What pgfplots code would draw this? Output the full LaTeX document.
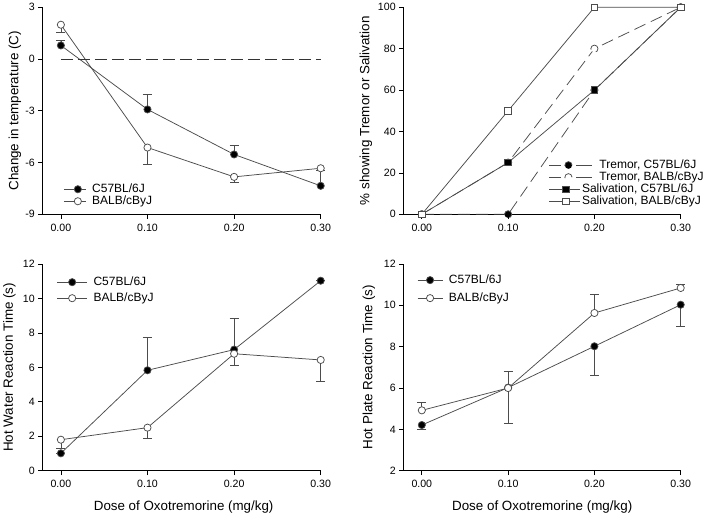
\documentclass[border=0pt]{standalone}
\usepackage{fontspec}
\setmainfont{Liberation Sans}
\usepackage{pgfplots}
\pgfplotsset{compat=1.18}
\definecolor{ln}{gray}{0.3}
\tikzset{lfont/.style={font=\fontsize{13.4bp}{15bp}\selectfont}}

\pgfplotsset{
  base/.style={
    scale only axis,
    width=278bp, height=207bp,
    axis x line*=bottom, axis y line*=left,
    axis line style={-, line width=0.7bp, black},
    tick align=outside, major tick length=4.5bp,
    tick style={black, line width=0.7bp},
    xmin=-0.021, xmax=0.3,
    xtick={0,0.1,0.2,0.3},
    xticklabels={0.00,0.10,0.20,0.30},
    ticklabel style={font=\fontsize{10.6bp}{12bp}\selectfont},
    xticklabel style={yshift=-1.5bp},
    /pgf/number format/assume math mode=true,
    legend style={draw=none, fill=none, inner sep=0pt, font=\fontsize{12bp}{12bp}\selectfont,
      nodes={inner sep=0pt, text height=9bp, text depth=3bp}, row sep=0pt, column sep=6bp},
    legend cell align=left,
    legend image code/.code={
      \draw[mark repeat=2,mark phase=2] plot coordinates {(0bp,0bp) (14bp,0bp) (22bp,0bp)};},
    clip=false,
  },
  ser/.style={color=ln, line width=0.75bp, mark size=3.6bp,
     mark options={draw=black, solid, line width=0.75bp},
     error bars/error bar style={line width=0.75bp, color=ln, solid},
     error bars/error mark options={line width=0.75bp, color=ln, mark size=4.5bp, rotate=90}},
  filled/.style={ser, mark=*, mark options={fill=black}},
  open/.style={ser, mark=*, mark options={fill=white}},
  fsq/.style={ser, mark=square*, mark size=3.3bp, mark options={fill=black}},
  osq/.style={ser, mark=square*, mark size=3.3bp, mark options={fill=white}},
  trem/.style={legend image code/.code={
    \path[draw=none, fill=none] (0bp,-3bp) rectangle (31bp,3bp);
    \draw[overlay, dash pattern=on 12bp off 15bp on 16bp off 50bp, mark repeat=2, mark phase=2]
       plot coordinates {(0bp,0bp) (19.4bp,0bp) (43bp,0bp)};}},
}

\begin{document}
\begin{tikzpicture}
\path[use as bounding box] (0bp,0bp) rectangle (704bp,-518bp);

% Panel 1
\begin{axis}[base, at={(42.7bp,-214.3bp)}, anchor=south west,
  ymin=-9, ymax=3, ytick={-9,-6,-3,0,3}, yticklabels={-9,-6,-3,0,3},
  ylabel={Change in temperature (C)},
  ylabel style={lfont, at={(axis description cs:-0.0996,0.5)}, anchor=center},
  legend style={at={(axis description cs:0.074,0.151)}, anchor=north west}]
\addplot[filled, error bars/.cd, y dir=plus, y explicit] coordinates {
  (0,0.79) +- (0,0.27) (0.1,-2.92) +- (0,0.89) (0.2,-5.53) +- (0,0.50) (0.3,-7.35) +- (0,0.9)};
\addlegendentry{C57BL/6J}
\addplot[open, error bars/.cd, y dir=minus, y explicit] coordinates {
  (0,1.99) +- (0,0.42) (0.1,-5.13) +- (0,1.0) (0.2,-6.83) +- (0,0.33) (0.3,-6.33) +- (0,0.1)};
\addlegendentry{BALB/cByJ}
\addplot[black!80, line width=0.75bp, dash pattern=on 12bp off 5bp, forget plot] coordinates {(0,0) (0.3,0)};
\end{axis}

% Panel 2
\begin{axis}[base, at={(403.7bp,-214.3bp)}, anchor=south west, width=277bp,
  ymin=0, ymax=100, ytick={0,20,40,60,80,100}, yticklabels={0,20,40,60,80,100},
  ylabel={\% showing Tremor or Salivation},
  ylabel style={lfont, at={(axis description cs:-0.136,0.5)}, anchor=center},
  legend style={at={(axis description cs:0.524,0.267)}, anchor=north west, column sep=2bp},
  legend image code/.code={
    \path[draw=none, fill=none] (0bp,-3bp) rectangle (31bp,3bp);
    \draw[overlay, mark repeat=2, mark phase=2] plot coordinates {(0bp,0bp) (17bp,0bp) (31bp,0bp)};}]
\addplot[filled, dash pattern=on 12bp off 6bp, trem]
  coordinates {(0,0) (0.1,0) (0.2,60) (0.3,100)};
\addlegendentry{\hspace*{17.4bp}Tremor, C57BL/6J}
\addplot[open, dash pattern=on 12bp off 6bp, trem]
  coordinates {(0,0) (0.1,25) (0.2,80) (0.3,100)};
\addlegendentry{\hspace*{17.4bp}Tremor, BALB/cByJ}
\addplot[fsq] coordinates {(0,0) (0.1,25) (0.2,60) (0.3,100)};
\addlegendentry{Salivation, C57BL/6J}
\addplot[osq] coordinates {(0,0) (0.1,50) (0.2,100) (0.3,100)};
\addlegendentry{Salivation, BALB/cByJ}
\end{axis}

% Panel 3
\begin{axis}[base, at={(42.7bp,-470.7bp)}, anchor=south west, height=206.7bp,
  ymin=0, ymax=12, ytick={0,2,4,6,8,10,12}, yticklabels={0,2,4,6,8,10,12},
  ylabel={Hot Water Reaction Time (s)},
  ylabel style={lfont, at={(axis description cs:-0.12,0.5)}, anchor=center},
  xlabel={\scalebox{1.34}{Dose of Oxotremorine (mg/kg)}},
  xlabel style={at={(axis description cs:0.507,-0.177)}, anchor=center},
  legend style={at={(axis description cs:0.05,0.942)}, anchor=north west, row sep=4bp},
  legend image code/.code={
      \draw[mark repeat=2,mark phase=2] plot coordinates {(0bp,0bp) (15bp,0bp) (30bp,0bp)};}]
\addplot[filled, error bars/.cd, y dir=plus, y explicit] coordinates {
  (0,1.01) +- (0,0.0) (0.1,5.83) +- (0,1.89) (0.2,7.03) +- (0,1.8) (0.3,11.03) +- (0,0.0)};
\addlegendentry{C57BL/6J}
\addplot[open, error bars/.cd, y dir=minus, y explicit] coordinates {
  (0,1.8) +- (0,0.5) (0.1,2.5) +- (0,0.6) (0.2,6.79) +- (0,0.67) (0.3,6.43) +- (0,1.23)};
\addlegendentry{BALB/cByJ}
\end{axis}

% Panel 4
\begin{axis}[base, at={(403.7bp,-470.7bp)}, anchor=south west, width=277bp, height=206.7bp,
  ymin=2, ymax=12, ytick={2,4,6,8,10,12}, yticklabels={2,4,6,8,10,12},
  ylabel={Hot Plate Reaction Time (s)},
  ylabel style={lfont, at={(axis description cs:-0.126,0.5)}, anchor=center},
  xlabel={Dose of Oxotremorine (mg/kg)},
  xlabel style={lfont, at={(axis description cs:0.5,-0.177)}, anchor=center},
  legend style={at={(axis description cs:0.048,0.952)}, anchor=north west, row sep=6bp},
  legend image code/.code={
      \draw[mark repeat=2,mark phase=2] plot coordinates {(0bp,0bp) (12.5bp,0bp) (25bp,0bp)};}]
\addplot[filled, error bars/.cd, y dir=minus, y explicit] coordinates {
  (0,4.21) +- (0,0.19) (0.1,6.02) +- (0,1.71) (0.2,8.02) +- (0,1.41) (0.3,10.03) +- (0,1.03)};
\addlegendentry{C57BL/6J}
\addplot[open, error bars/.cd, y dir=plus, y explicit] coordinates {
  (0,4.92) +- (0,0.39) (0.1,6.0) +- (0,0.81) (0.2,9.63) +- (0,0.92) (0.3,10.84) +- (0,0.19)};
\addlegendentry{BALB/cByJ}
\end{axis}
\end{tikzpicture}
\end{document}
